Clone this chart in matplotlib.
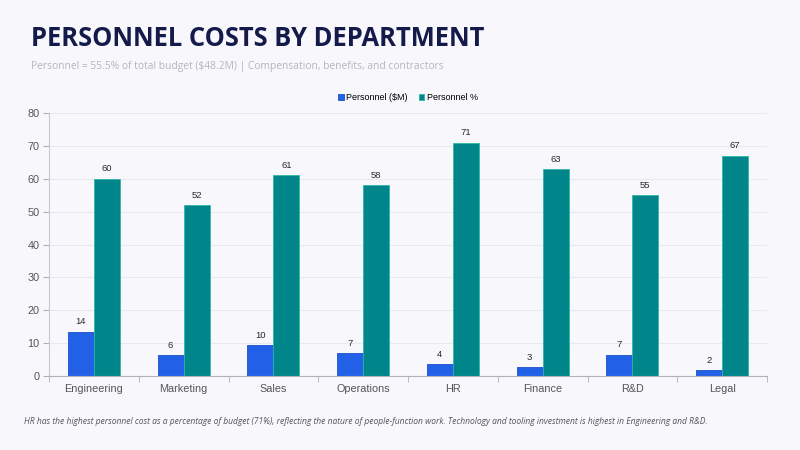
import matplotlib
matplotlib.use("Agg")
import matplotlib.pyplot as plt
import numpy as np

departments = ["Engineering", "Marketing", "Sales", "Operations", "HR", "Finance", "R&D", "Legal"]
personnel_musd = [13.5, 6.3, 9.5, 7.0, 3.7, 2.7, 6.5, 1.7]
personnel_pct = [60, 52, 61, 58, 71, 63, 55, 67]

BG = "#F8F8FC"
BLUE = "#2360E8"
TEAL = "#00868A"

fig = plt.figure(figsize=(8, 4.5), dpi=100, facecolor=BG)
ax = fig.add_axes([49 / 800, 1 - 376 / 450, (767 - 49) / 800, (376 - 113) / 450])
ax.set_facecolor(BG)

x = np.arange(len(departments))
w = 0.29
b1 = ax.bar(x - w / 2, personnel_musd, w, color=BLUE, edgecolor="#1a4fc9", linewidth=0.6, label="Personnel ($M)")
b2 = ax.bar(x + w / 2, personnel_pct, w, color=TEAL, edgecolor="#2fb8a8", linewidth=0.6, label="Personnel %")

# value labels, rounded half-up like the source
for bars, vals in ((b1, personnel_musd), (b2, personnel_pct)):
    for r, v in zip(bars, vals):
        ax.text(r.get_x() + r.get_width() / 2, v + 1.6, str(int(v + 0.5)), ha="center", va="bottom",
                fontsize=6.8, color="#2a2a2a", family="Liberation Sans")

ax.set_xlim(-0.5, len(departments) - 0.5)
ax.set_ylim(0, 80)
ax.set_yticks(range(0, 81, 10))
ax.set_xticks(x)
ax.set_xticklabels(departments)
ax.set_xticks(np.arange(-0.5, len(departments), 1), minor=True)
ax.tick_params(axis="x", which="major", length=0, pad=6, labelsize=7.8, labelcolor="#555555")
ax.tick_params(axis="x", which="minor", length=4, color="#b0b0b8")
ax.tick_params(axis="y", length=4, color="#b0b0b8", labelsize=7.8, labelcolor="#555555", pad=3)
for lab in ax.get_xticklabels() + ax.get_yticklabels():
    lab.set_family("Liberation Sans")
ax.grid(axis="y", color="#e8e8ee", linewidth=0.8)
ax.set_axisbelow(True)
for s in ("top", "right"):
    ax.spines[s].set_visible(False)
ax.spines["left"].set_color("#c8c8d0")
ax.spines["bottom"].set_color("#b0b0b8")

leg = ax.legend(loc="lower center", bbox_to_anchor=(0.5, 1.0), ncol=2, frameon=False,
                prop={"family": "Liberation Sans", "size": 6.5}, handlelength=0.6, handleheight=0.6,
                handletextpad=0.3, columnspacing=1.2, borderaxespad=0.8)

fig.text(31 / 800, 1 - 46 / 450, "PERSONNEL COSTS BY DEPARTMENT", fontsize=18.4, fontweight="bold",
         color="#141a4a", family="Open Sans", va="baseline")
fig.text(31 / 800, 1 - 69 / 450, "Personnel = 55.5% of total budget ($48.2M) | Compensation, benefits, and contractors",
         fontsize=7.4, color="#b4b4c2", family="Open Sans", va="baseline")
fig.text(24 / 800, 1 - 424 / 450,
         "HR has the highest personnel cost as a percentage of budget (71%), reflecting the nature of people-function work. "
         "Technology and tooling investment is highest in Engineering and R&D.",
         fontsize=6.15, style="italic", color="#555560", family="Open Sans", va="baseline")

fig.savefig("out.png", dpi=100, facecolor=BG)
